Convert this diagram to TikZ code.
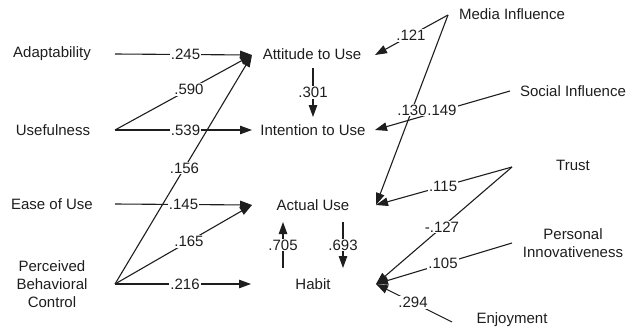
\documentclass[tikz,border=0pt]{standalone}
\usepackage{fontspec}
\setmainfont{Liberation Sans}
\usetikzlibrary{arrows.meta}
\definecolor{ink}{RGB}{30,30,30}
\begin{document}
\begin{tikzpicture}[x=1pt,y=-1pt,
  txt/.style={inner sep=0pt,text=ink,font=\fontsize{15}{18}\selectfont,align=center},
  lbl/.style={inner sep=1pt,fill=white,text=ink,font=\fontsize{15}{18}\selectfont},
  conn/.style={draw=ink,line width=1.1pt,-{Triangle[length=12pt,width=8.5pt]}},
  plain/.style={draw=ink,line width=1.1pt}]
\useasboundingbox (0,0) rectangle (634,332);
% left nodes
\node[txt] (ad) at (52,54) {Adaptability};
\node[txt] (us) at (53,130) {Usefulness};
\node[txt] (eo) at (52,204) {Ease of Use};
\node[txt] (pb) at (52,284) {Perceived\\Behavioral\\Control};
% middle nodes
\node[txt] (att) at (312,54) {Attitude to Use};
\node[txt] (int) at (313,130) {Intention to Use};
\node[txt] (act) at (313,205) {Actual Use};
\node[txt] (hab) at (313,284) {Habit};
% right nodes
\node[txt] (med) at (512,14) {Media Influence};
\node[txt] (soc) at (573,91) {Social Influence};
\node[txt] (tru) at (573,165) {Trust};
\node[txt] (per) at (573,243) {Personal\\Innovativeness};
\node[txt] (enj) at (512,320) {Enjoyment};
% connector end points
\coordinate (adS) at (115,54);
\coordinate (usS) at (115,130);
\coordinate (eoS) at (115,204);
\coordinate (pbS) at (115,284);
\coordinate (attL) at (252,55);
\coordinate (intL) at (252,130);
\coordinate (actL) at (252,205);
\coordinate (habL) at (251,284);
\coordinate (attR) at (375,55);
\coordinate (intR) at (375,130);
\coordinate (actR) at (376,205);
\coordinate (habR) at (376,284);
\coordinate (medS) at (448,15);
\coordinate (socS) at (510,91);
\coordinate (truS) at (512,167);
\coordinate (perS) at (512,243);
\coordinate (enjS) at (452,322);
\coordinate (attB) at (313,68);
\coordinate (intT) at (313,117);
\coordinate (actB) at (343,222);
\coordinate (habT) at (343,268);
\coordinate (habU) at (283,268);
\coordinate (actD) at (283,222);
% left connectors
\draw[conn] (usS) -- node[lbl,pos=0.54] {.590} (attL);
\draw[conn] (pbS) -- node[lbl,pos=0.507] {.156} (attL);
\draw[conn] (adS) -- node[lbl,pos=0.515] {.245} (attL);
\draw[conn] (usS) -- node[lbl,pos=0.515] {.539} (intL);
\draw[conn] (eoS) -- node[lbl,pos=0.5] {.145} (actL);
\draw[conn] (pbS) -- node[lbl,pos=0.54] {.165} (actL);
\draw[conn] (pbS) -- node[lbl,pos=0.515] {.216} (habL);
% vertical connectors
\draw[conn] (attB) -- node[lbl] {.301} (intT);
\draw[conn] (actB) -- node[lbl] {.693} (habT);
\draw[conn] (habU) -- node[lbl] {.705} (actD);
% right connectors
\draw[conn] (medS) -- node[lbl,pos=0.507] {.121} (attR);
\draw[conn] (socS) -- node[lbl,pos=0.504] {.149} (intR);
\draw[conn] (medS) -- node[lbl,pos=0.5] {.130} (actR);
\draw[conn] (truS) -- node[lbl,pos=0.507] {.115} (actR);
\draw[conn] (truS) -- node[lbl,pos=0.515] {-.127} (habR);
\draw[conn] (perS) -- node[lbl,pos=0.507] {.105} (habR);
\draw[conn] (enjS) -- node[lbl,pos=0.513] {.294} (habR);
\end{tikzpicture}
\end{document}
